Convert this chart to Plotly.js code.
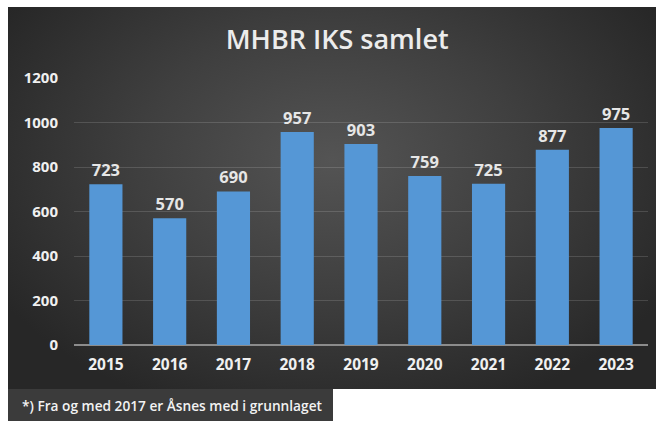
<!DOCTYPE html>
<html>
<head>
<meta charset="utf-8">
<script src="https://cdn.plot.ly/plotly-3.0.1.min.js"></script>
<style>
  html, body { margin:0; padding:0; background:#ffffff; }
  #wrap { position:relative; width:656px; height:421px; overflow:hidden; }
  #bg { position:absolute; left:8px; top:7px; width:648px; height:382px;
        background: radial-gradient(ellipse 60% 70% at 50% 40%, #545454 0%, #3f3f3f 50%, #272727 100%); }
  #foot { position:absolute; left:8px; top:389px; width:325px; height:32px; background:#3b3b3b; }
  #chart { position:absolute; left:0; top:0; width:656px; height:421px; }
</style>
</head>
<body>
<div id="wrap">
  <div id="bg"></div>
  <div id="foot"></div>
  <div id="chart"></div>
</div>
<script>
const years = ["2015","2016","2017","2018","2019","2020","2021","2022","2023"];
const values = [723, 570, 690, 957, 903, 759, 725, 877, 975];
const yTicks = [0, 200, 400, 600, 800, 1000, 1200];
const titleText = "MHBR IKS samlet";
const footnote = "*) Fra og med 2017 er Åsnes med i grunnlaget";

const fontFam = "'Open Sans', 'Noto Sans', sans-serif";

Plotly.newPlot('chart', [{
  type: 'bar',
  x: years,
  y: values,
  text: values.map(String),
  textposition: 'outside',
  cliponaxis: false,
  textfont: { family: fontFam, size: 16.5, color: '#e6e6e6', weight: 700 },
  marker: { color: '#5597d6', line: { width: 0 } },
  width: 0.52,
  hoverinfo: 'none'
}], {
  width: 656, height: 421,
  paper_bgcolor: 'rgba(0,0,0,0)',
  plot_bgcolor: 'rgba(0,0,0,0)',
  margin: { l: 74, r: 8, t: 78, b: 76 },
  title: {
    text: titleText,
    xref: 'container', x: 0.514, xanchor: 'center',
    yref: 'container', y: 0.905, yanchor: 'middle',
    font: { family: fontFam, size: 27, color: '#ececec', weight: 600 }
  },
  xaxis: {
    type: 'category',
    tickfont: { family: fontFam, size: 15.5, color: '#f0f0f0', weight: 700 },
    showgrid: false, zeroline: false, showline: false,
    ticks: '', ticklabelstandoff: 8
  },
  yaxis: {
    range: [0, 1200],
    tickvals: yTicks,
    ticktext: yTicks.map(String),
    tickfont: { family: fontFam, size: 15, color: '#f0f0f0', weight: 700 },
    gridcolor: 'rgba(255,255,255,0.14)', gridwidth: 1,
    zeroline: true, zerolinecolor: '#8c8c8c', zerolinewidth: 2,
    showline: false, ticks: '', ticklabelstandoff: 15
  },
  showlegend: false,
  annotations: [{
    text: footnote,
    xref: 'paper', yref: 'paper',
    x: (20 - 74) / 574, y: (345 - 406) / 267,
    xanchor: 'left', yanchor: 'middle',
    showarrow: false,
    font: { family: fontFam, size: 13.7, color: '#f2f2f2', weight: 600 }
  }]
}, { staticPlot: true });
</script>
</body>
</html>
